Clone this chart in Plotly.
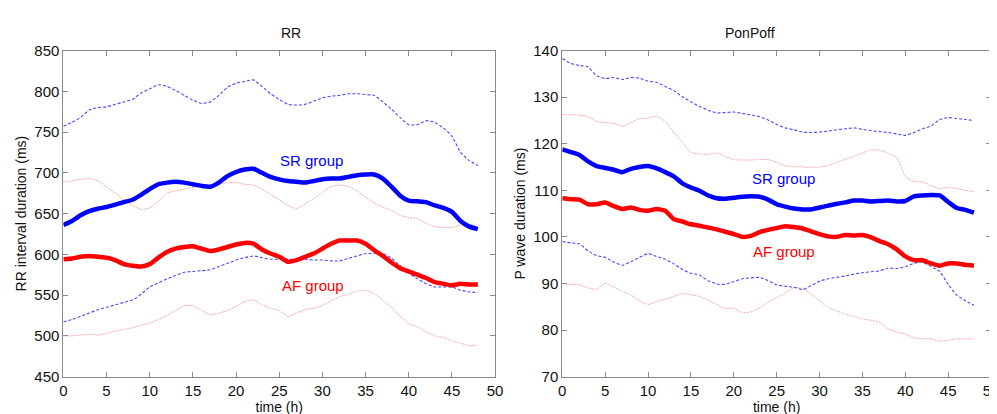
import plotly.graph_objects as go

hours = list(range(49))

# ---- RR panel (ms) ----
rr_sr_upper = [757, 762, 768, 777, 780, 781, 784, 787, 790, 798, 803, 808, 806, 801, 795, 789, 785, 787, 795, 805,
               810, 812, 814, 806, 797, 790, 784, 783, 784, 788, 792, 794, 795, 797, 797, 796, 795, 787, 778, 768,
               759, 759, 764, 762, 755, 745, 725, 715, 709]
rr_sr_mean = [636, 641, 648, 653, 656, 658, 661, 664, 667, 673, 680, 686, 688, 689, 688, 686, 684, 683, 688, 696,
              701, 704, 705, 700, 695, 692, 690, 689, 688, 690, 692, 693, 693, 695, 697, 698, 698, 693, 683, 672,
              666, 665, 664, 660, 657, 652, 641, 634, 631]
rr_sr_lower = [517, 520, 524, 528, 532, 535, 538, 541, 544, 551, 560, 565, 570, 574, 578, 579, 580, 581, 585, 589,
               593, 596, 598, 596, 594, 594, 594, 594, 594, 593, 593, 592, 592, 595, 598, 601, 601, 601, 595, 586,
               577, 570, 564, 560, 560, 560, 556, 554, 553]
rr_af_upper = [689, 690, 692, 693, 690, 683, 675, 667, 660, 655, 657, 665, 675, 678, 680, 682, 684, 685, 686, 688,
               688, 686, 685, 680, 673, 667, 660, 656, 662, 668, 676, 683, 685, 683, 678, 670, 663, 658, 654, 648,
               645, 644, 638, 634, 633, 633, 636, 637, 634]
rr_af_mean = [594, 595, 597, 598, 597, 596, 593, 588, 586, 585, 588, 596, 603, 607, 609, 610, 607, 604, 606, 609,
              612, 614, 613, 606, 601, 597, 591, 593, 597, 601, 607, 613, 617, 617, 617, 613, 605, 598, 590, 583,
              579, 575, 571, 566, 564, 562, 564, 563, 563]
rr_af_lower = [500, 500, 501, 502, 501, 503, 506, 508, 510, 513, 516, 520, 525, 531, 537, 537, 531, 526, 528, 531,
               536, 542, 544, 538, 534, 531, 524, 528, 532, 534, 537, 543, 548, 551, 555, 556, 552, 544, 535, 524,
               515, 511, 505, 500, 498, 494, 491, 488, 489]

# ---- PonPoff panel (ms) ----
p_sr_upper = [138.3, 137.2, 136.8, 136.5, 134.6, 134.0, 134.2, 133.8, 134.2, 134.1, 133.4, 133.2, 132.3, 131.4, 130.1,
              129.0, 128.0, 127.2, 126.6, 126.7, 126.8, 126.5, 126.2, 125.8, 125.1, 124.1, 123.4, 123.0, 122.5, 122.4,
              122.5, 122.7, 123.0, 123.2, 123.4, 123.1, 122.8, 122.6, 122.4, 122.1, 121.8, 122.4, 123.2, 123.8, 125.2,
              125.6, 125.4, 125.2, 125.0]
p_af_upper = [126.3, 126.2, 126.1, 125.8, 124.8, 124.5, 124.4, 123.7, 124.5, 125.4, 125.5, 125.9, 124.8, 122.5, 120.3,
              118.1, 117.8, 117.7, 118.0, 117.3, 116.6, 116.5, 116.5, 116.6, 116.6, 116.0, 115.3, 115.1, 115.0, 114.9,
              115.0, 115.3, 116.0, 116.7, 117.3, 118.0, 118.7, 118.6, 118.0, 117.0, 113.0, 111.9, 111.8, 111.0, 110.4,
              110.6, 110.4, 110.0, 109.7]
p_sr_mean = [118.8, 118.2, 117.6, 116.2, 115.2, 114.8, 114.4, 113.9, 114.6, 115.0, 115.2, 114.7, 113.9, 113.0, 111.5,
             110.6, 109.9, 108.9, 108.3, 108.2, 108.4, 108.6, 108.7, 108.6, 108.0, 107.0, 106.5, 106.1, 105.9, 105.9,
             106.3, 106.7, 107.1, 107.4, 107.8, 107.8, 107.6, 107.7, 107.8, 107.6, 107.7, 108.7, 108.9, 109.0, 108.9,
             107.5, 106.2, 105.8, 105.2]
p_af_mean = [108.3, 108.1, 108.0, 107.0, 107.0, 107.4, 106.6, 106.0, 106.3, 105.8, 105.6, 106.0, 105.6, 103.8, 103.3,
             102.7, 102.4, 102.0, 101.6, 101.1, 100.6, 100.0, 100.2, 101.0, 101.5, 101.9, 102.3, 102.1, 101.8, 101.2,
             100.6, 100.1, 100.0, 100.4, 100.3, 100.4, 99.9, 99.1, 98.4, 97.3, 95.8, 95.0, 95.0, 94.3, 93.8,
             94.3, 94.3, 94.0, 93.8]
p_sr_lower = [99.0, 98.7, 98.5, 97.0, 96.0, 95.6, 94.6, 93.9, 94.7, 95.6, 96.4, 95.8, 95.2, 94.2, 93.0,
              92.2, 91.8, 90.6, 89.9, 89.8, 90.4, 91.0, 91.2, 91.3, 90.6, 89.7, 89.4, 89.2, 88.7, 89.5,
              90.5, 91.0, 91.3, 91.6, 92.0, 92.3, 92.5, 92.7, 93.3, 93.2, 93.6, 94.3, 94.6, 93.6, 92.6,
              89.8, 87.5, 86.3, 85.3]
p_af_lower = [89.9, 89.8, 89.7, 89.0, 88.8, 90.0, 89.2, 88.3, 87.5, 86.3, 85.5, 86.1, 86.6, 87.2, 87.8,
              87.6, 87.2, 86.4, 85.5, 84.6, 84.7, 83.7, 83.9, 84.7, 86.0, 87.0, 87.9, 89.1, 88.9, 87.8,
              86.3, 84.8, 84.1, 83.4, 82.9, 82.4, 82.1, 81.7, 80.2, 79.6, 79.1, 78.3, 78.1, 78.1, 77.6,
              77.8, 78.1, 78.1, 78.1]

x_ticks = [0, 5, 10, 15, 20, 25, 30, 35, 40, 45, 50]
rr_ticks = [450, 500, 550, 600, 650, 700, 750, 800, 850]
p_ticks = [70, 80, 90, 100, 110, 120, 130, 140]

BLUE = "#0000ff"
RED = "#ff0000"
LBLUE = "rgba(40,40,255,0.85)"
LRED = "rgba(245,140,140,0.75)"

FONT = "Liberation Sans Narrow, Arial Narrow, Liberation Sans, Arial"

fig = go.Figure()

def add_panel(xa, ya, sr_u, sr_m, sr_l, af_u, af_m, af_l):
    for ys, col, w, dash in [
        (af_u, LRED, 1, "2px,1px"),
        (af_l, LRED, 1, "2px,1px"),
        (sr_u, LBLUE, 1.1, "3px,2px"),
        (sr_l, LBLUE, 1.1, "3px,2px"),
        (sr_m, BLUE, 4.5, "solid"),
        (af_m, RED, 4.5, "solid"),
    ]:
        fig.add_trace(go.Scatter(x=hours, y=ys, mode="lines", xaxis=xa, yaxis=ya,
                                 line=dict(color=col, width=w, dash=dash, shape="spline", smoothing=0.5),
                                 showlegend=False, hoverinfo="skip"))

add_panel("x", "y", rr_sr_upper, rr_sr_mean, rr_sr_lower, rr_af_upper, rr_af_mean, rr_af_lower)
add_panel("x2", "y2", p_sr_upper, p_sr_mean, p_sr_lower, p_af_upper, p_af_mean, p_af_lower)

W, H = 997, 414
TXT = "#111"
axis_common = dict(showgrid=False, zeroline=False, showline=True, linecolor="#8a8a8a", linewidth=1,
                   mirror="ticks", ticks="inside", ticklen=5, tickcolor="#8a8a8a",
                   tickfont=dict(family=FONT, size=15, color=TXT))

fig.update_layout(
    width=W, height=H,
    margin=dict(l=0, r=0, t=0, b=0),
    paper_bgcolor="white", plot_bgcolor="white",
    xaxis=dict(domain=[52 / W, 489 / W], range=[0, 50], tickvals=x_ticks, anchor="y",
               title=dict(text="time (h)", font=dict(family=FONT, size=14, color=TXT), standoff=2),
               **axis_common),
    yaxis=dict(domain=[1 - 375 / H, 1 - 35 / H], range=[450, 850], tickvals=rr_ticks, anchor="x",
               title=dict(text="RR interval duration (ms)", font=dict(family=FONT, size=14, color=TXT), standoff=4),
               **axis_common),
    xaxis2=dict(domain=[557 / W, 991 / W], range=[0, 50], tickvals=x_ticks, anchor="y2",
                title=dict(text="time (h)", font=dict(family=FONT, size=14, color=TXT), standoff=2),
                **axis_common),
    yaxis2=dict(domain=[1 - 375 / H, 1 - 35 / H], range=[70, 140], tickvals=p_ticks, anchor="x2",
                title=dict(text="P wave duration (ms)", font=dict(family=FONT, size=14, color=TXT), standoff=4),
                **axis_common),
)

fig.add_annotation(text="RR", xref="paper", yref="paper", x=(52 + 489) / 2 / W, y=1 - 17 / H,
                   showarrow=False, font=dict(family=FONT, size=14, color=TXT), yanchor="middle")
fig.add_annotation(text="PonPoff", xref="paper", yref="paper", x=(557 + 991) / 2 / W, y=1 - 17 / H,
                   showarrow=False, font=dict(family=FONT, size=14, color=TXT), yanchor="middle")

fig.add_annotation(text="SR group", xref="x", yref="y", x=28.7, y=715, showarrow=False,
                   font=dict(family=FONT, size=15, color=BLUE))
fig.add_annotation(text="AF group", xref="x", yref="y", x=28.9, y=562, showarrow=False,
                   font=dict(family=FONT, size=15, color=RED))
fig.add_annotation(text="SR group", xref="x2", yref="y2", x=25.8, y=112.6, showarrow=False,
                   font=dict(family=FONT, size=15, color=BLUE))
fig.add_annotation(text="AF group", xref="x2", yref="y2", x=25.8, y=96.8, showarrow=False,
                   font=dict(family=FONT, size=15, color=RED))

fig.write_html("out.html")
